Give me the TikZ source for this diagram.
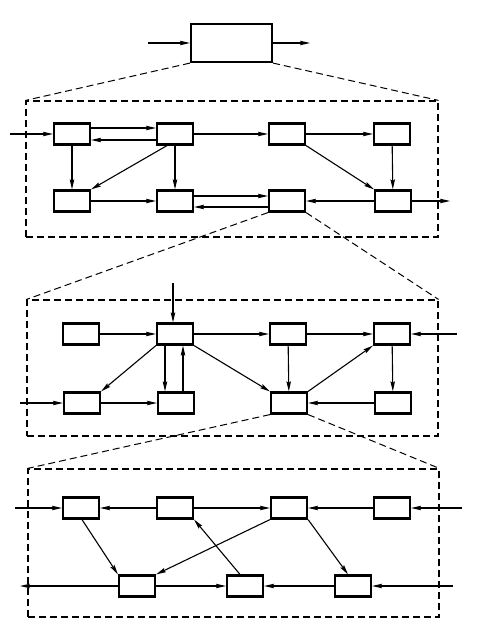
\documentclass[tikz,border=0pt]{standalone}
\usepackage{tikz}
\usetikzlibrary{arrows.meta}

\tikzset{
  blk/.style={draw,line width=2.2pt,minimum width=36pt,minimum height=21pt,inner sep=0pt},
  bigblk/.style={blk,minimum width=81pt,minimum height=38pt},
  frame/.style={draw,line width=1.1pt,dash pattern=on 7pt off 4pt,inner sep=0pt},
  zoomln/.style={line width=1pt,dash pattern=on 7pt off 4pt},
  arr/.style={line width=1.1pt,-{Stealth[length=10pt,width=4.5pt,inset=1.5pt]}}
}

\begin{document}
\begin{tikzpicture}[x=1pt,y=-1pt]
\useasboundingbox (0,0) rectangle (487,639);

% top block
\node[bigblk] (top) at (231.5,43) {};
\coordinate (in0) at (148,43);
\coordinate (out0) at (310,43);
\draw[arr] (in0) -- (top.west);
\draw[arr] (top.east) -- (out0);

% frames
\node[frame,minimum width=412pt,minimum height=136pt] (L1) at (232,169) {};
\node[frame,minimum width=411pt,minimum height=136pt] (L2) at (232.5,368) {};
\node[frame,minimum width=411pt,minimum height=148pt] (L3) at (233.5,543) {};

% level 1
\foreach \n/\x in {A1/72,B1/175,C1/287,D1/392} \node[blk] (\n) at (\x,134) {};
\foreach \n/\x in {E1/72,F1/175,G1/287,H1/393} \node[blk] (\n) at (\x,201) {};
\coordinate (in1) at (10,134);
\coordinate (out1) at (450,201);
\draw[arr] (in1) -- (A1.west);
\draw[arr] ([yshift=6pt]A1.east) -- ([yshift=6pt]B1.west);
\draw[arr] ([yshift=-6pt]B1.west) -- ([yshift=-6pt]A1.east);
\draw[arr] (B1) -- (C1);
\draw[arr] (C1) -- (D1);
\draw[arr] (A1) -- (E1);
\draw[arr] ([xshift=-8pt]B1.south) -- (E1.north east);
\draw[arr] (B1) -- (F1);
\draw[arr] (E1) -- (F1);
\draw[arr] ([yshift=5pt]F1.east) -- ([yshift=5pt]G1.west);
\draw[arr] ([yshift=-6pt]G1.west) -- ([yshift=-6pt]F1.east);
\draw[arr] (C1.south east) -- (H1.north west);
\draw[arr] (D1) -- (H1);
\draw[arr] (H1) -- (G1);
\draw[arr] (H1.east) -- (out1);

% level 2
\foreach \n/\x in {A2/81,B2/175,C2/288,D2/392} \node[blk] (\n) at (\x,334) {};
\foreach \n/\x in {E2/82,F2/176,G2/289,H2/393} \node[blk] (\n) at (\x,403) {};
\coordinate (in2a) at (173,283);
\coordinate (in2b) at (457,334);
\coordinate (in2c) at (20,403);
\draw[arr] (in2a) -- (in2a |- B2.north);
\draw[arr] (in2b) -- (D2.east);
\draw[arr] (in2c) -- (E2.west);
\draw[arr] (A2) -- (B2);
\draw[arr] (B2) -- (C2);
\draw[arr] (C2) -- (D2);
\draw[arr] (B2.south west) -- (E2.north east);
\draw[arr] ([xshift=-10pt]B2.south) -- ([xshift=-11pt]F2.north);
\draw[arr] ([xshift=7pt]F2.north) -- ([xshift=8pt]B2.south);
\draw[arr] (E2) -- (F2);
\draw[arr] (B2.south east) -- (G2.north west);
\draw[arr] (C2) -- (G2);
\draw[arr] (G2.north east) -- (D2.south west);
\draw[arr] (D2) -- (H2);
\draw[arr] (H2) -- (G2);

% level 3
\foreach \n/\x in {A3/81,B3/175,C3/289,D3/392} \node[blk] (\n) at (\x,508) {};
\foreach \n/\x in {E3/137,F3/245,G3/353} \node[blk] (\n) at (\x,586) {};
\coordinate (in3a) at (15,508);
\coordinate (in3b) at (462,508);
\coordinate (in3c) at (453,586);
\coordinate (out3) at (20,586);
\draw[arr] (in3a) -- (A3.west);
\draw[arr] (in3b) -- (D3.east);
\draw[arr] (B3) -- (A3);
\draw[arr] (B3) -- (C3);
\draw[arr] (D3) -- (C3);
\draw[arr] ([xshift=1pt]A3.south) -- (E3.north west);
\draw[arr] (C3.south west) -- (E3.north east);
\draw[arr] ([xshift=-5pt]F3.north) -- (B3.south east);
\draw[arr] (C3.south east) -- ([xshift=-5pt]G3.north);
\draw[arr] (E3.west) -- (out3);
\draw[arr] (E3) -- (F3);
\draw[arr] (G3) -- (F3);
\draw[arr] (in3c) -- (G3.east);

% zoom lines
\draw[zoomln] (top.south west) -- (L1.north west);
\draw[zoomln] (top.south east) -- (L1.north east);
\draw[zoomln] (G1.south west) -- (L2.north west);
\draw[zoomln] (G1.south east) -- (L2.north east);
\draw[zoomln] (G2.south west) -- (L3.north west);
\draw[zoomln] (G2.south east) -- (L3.north east);
\end{tikzpicture}
\end{document}
